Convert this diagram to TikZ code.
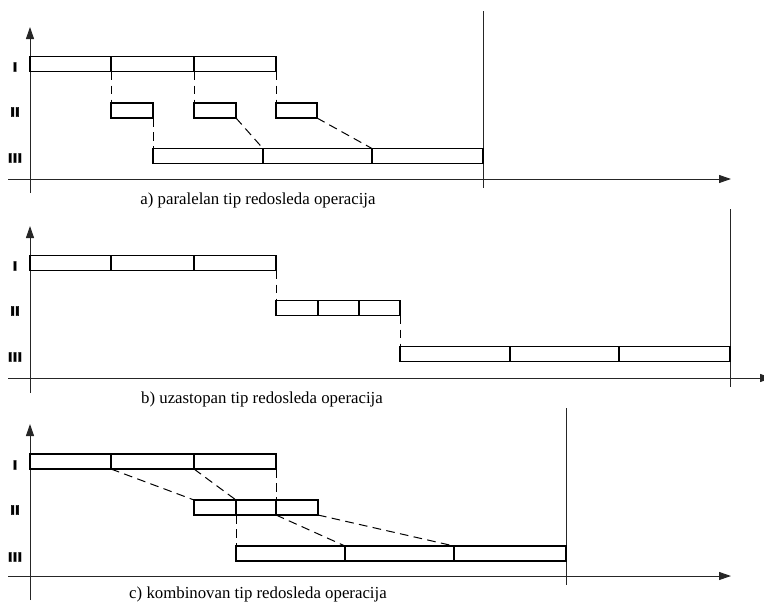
\documentclass[tikz,border=0pt]{standalone}
\usepackage{fontspec}
\newfontfamily\capfont{Liberation Serif}
\newfontfamily\labfont{Liberation Sans Bold}[FakeStretch=1.25, FakeBold=2.5]
\usetikzlibrary{arrows.meta}
\begin{document}
\begin{tikzpicture}[x=0.75pt,y=-0.75pt,
  seg/.style={draw, line width=0.95pt, inner sep=0pt, outer sep=0pt, anchor=north west, minimum height=11.25pt, minimum width=#1*0.75pt},
  axis/.style={line width=0.75pt, draw=black!85, -{Triangle[length=9pt,width=6pt]}},
  axisplain/.style={line width=0.75pt, draw=black!85},
  conn/.style={dash pattern=on 6.5pt off 4pt, line width=0.75pt},
  lab/.style={font=\labfont\fontsize{10.3}{11}\selectfont, inner sep=0pt},
  captext/.style={font=\capfont\fontsize{12.6}{14}\selectfont, inner sep=0pt}]
\useasboundingbox (0,0) rectangle (764,603);
% ---------- panel a ----------
\coordinate (aYb) at (30,193); \coordinate (aYt) at (30,27);
\coordinate (aXl) at (8,179);  \coordinate (aXr) at (731,179);
\coordinate (aVt) at (483,11); \coordinate (aVb) at (483,188);
\draw[axis] (aYb) -- (aYt);
\draw[axis] (aXl) -- (aXr);
\draw[axisplain] (aVt) -- (aVb);
\node[seg=81] (aI1) at (30,56.5) {};
\node[seg=83] (aI2) at (111,56.5) {};
\node[seg=82] (aI3) at (194,56.5) {};
\node[seg=42] (aII1) at (111,103) {};
\node[seg=42] (aII2) at (194,103) {};
\node[seg=41] (aII3) at (276,103) {};
\node[seg=110] (aIII1) at (153,148.5) {};
\node[seg=109] (aIII2) at (263,148.5) {};
\node[seg=111] (aIII3) at (372,148.5) {};
\draw[conn] (aI1.south east) -- (aII1.north west);
\draw[conn] (aI2.south east) -- (aII2.north west);
\draw[conn] (aI3.south east) -- (aII3.north west);
\draw[conn] (aII1.south east) -- (aIII1.north west);
\draw[conn] (aII2.south east) -- (aIII2.north west);
\draw[conn] (aII3.south east) -- (aIII3.north west);
\node[lab] (aL1) at (15,67) {I};
\node[lab] (aL2) at (15,112) {II};
\node[lab] (aL3) at (15,158) {III};
\node[captext] (aC) at (258,200) {a) paralelan tip redosleda operacija};
% ---------- panel b ----------
\coordinate (bYb) at (30,393); \coordinate (bYt) at (30,226);
\coordinate (bXl) at (8,378);  \coordinate (bXr) at (772,378);
\coordinate (bVt) at (730,209); \coordinate (bVb) at (730,387);
\draw[axis] (bYb) -- (bYt);
\draw[axis] (bXl) -- (bXr);
\draw[axisplain] (bVt) -- (bVb);
\node[seg=81] (bI1) at (30,255.5) {};
\node[seg=83] (bI2) at (111,255.5) {};
\node[seg=82] (bI3) at (194,255.5) {};
\node[seg=42] (bII1) at (276,300.5) {};
\node[seg=41] (bII2) at (318,300.5) {};
\node[seg=41] (bII3) at (359,300.5) {};
\node[seg=110] (bIII1) at (400,346.5) {};
\node[seg=109] (bIII2) at (510,346.5) {};
\node[seg=111] (bIII3) at (619,346.5) {};
\draw[conn] (bI3.south east) -- (bII1.north west);
\draw[conn] (bII3.south east) -- (bIII1.north west);
\node[lab] (bL1) at (15,266) {I};
\node[lab] (bL2) at (15,311) {II};
\node[lab] (bL3) at (15,357) {III};
\node[captext] (bC) at (262,399) {b) uzastopan tip redosleda operacija};
% ---------- panel c ----------
\coordinate (cYb) at (30,600); \coordinate (cYt) at (30,424);
\coordinate (cXl) at (8,576);  \coordinate (cXr) at (731,576);
\coordinate (cVt) at (566,408); \coordinate (cVb) at (566,585);
\draw[axis] (cYb) -- (cYt);
\draw[axis] (cXl) -- (cXr);
\draw[axisplain] (cVt) -- (cVb);
\node[seg=81] (cI1) at (30,454) {};
\node[seg=83] (cI2) at (111,454) {};
\node[seg=82] (cI3) at (194,454) {};
\node[seg=42] (cII1) at (194,500) {};
\node[seg=40] (cII2) at (236,500) {};
\node[seg=42] (cII3) at (276,500) {};
\node[seg=109] (cIII1) at (236,546) {};
\node[seg=109] (cIII2) at (345,546) {};
\node[seg=112] (cIII3) at (454,546) {};
\draw[conn] (cI1.south east) -- (cII1.north west);
\draw[conn] (cI2.south east) -- (cII2.north west);
\draw[conn] (cI3.south east) -- (cII3.north west);
\draw[conn] (cII1.south east) -- (cIII1.north west);
\draw[conn] (cII2.south east) -- (cIII2.north west);
\draw[conn] (cII3.south east) -- (cIII3.north west);
\node[lab] (cL1) at (15,465) {I};
\node[lab] (cL2) at (15,510) {II};
\node[lab] (cL3) at (15,557) {III};
\node[captext] (cC) at (258,594) {c) kombinovan tip redosleda operacija};
\end{tikzpicture}
\end{document}
